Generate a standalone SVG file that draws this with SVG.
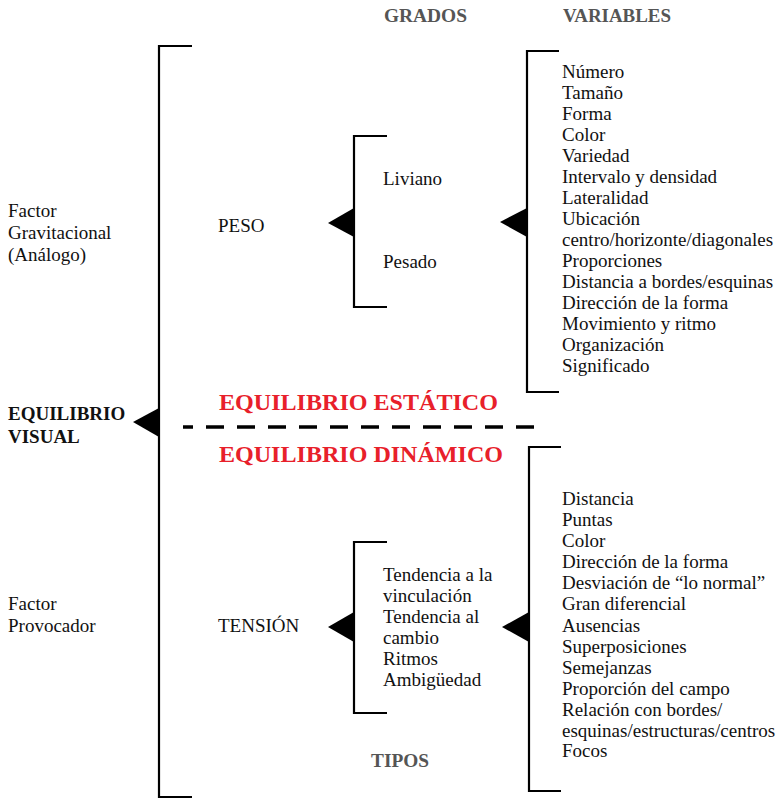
<svg xmlns="http://www.w3.org/2000/svg" width="778" height="798" viewBox="0 0 778 798">
<style>
.t{font-family:"Liberation Serif","Times New Roman",serif;font-size:19px;fill:#111}
.b{font-weight:bold}
.h{font-family:"Liberation Serif","Times New Roman",serif;font-size:18px;font-weight:bold;fill:#555}
.r{font-family:"Liberation Serif","Times New Roman",serif;font-size:24px;font-weight:bold;fill:#e8202a}
.br{fill:none;stroke:#000;stroke-width:2.2}
.tri{fill:#000}
</style>
<rect width="778" height="798" fill="#fff"/>
<g id="headers">
<text class="h" x="384" y="22" textLength="83" lengthAdjust="spacingAndGlyphs">GRADOS</text>
<text class="h" x="563" y="22" textLength="108" lengthAdjust="spacingAndGlyphs">VARIABLES</text>
<text class="h" x="371" y="767" textLength="58" lengthAdjust="spacingAndGlyphs">TIPOS</text>
</g>
<g id="equilibrio-visual">
<text class="t b" x="8" y="420">EQUILIBRIO</text>
<text class="t b" x="8" y="443">VISUAL</text>
</g>
<g id="factor-gravitacional">
<text class="t" x="8" y="217">Factor</text>
<text class="t" x="8" y="239">Gravitacional</text>
<text class="t" x="8" y="261">(Análogo)</text>
</g>
<g id="factor-provocador">
<text class="t" x="8" y="610">Factor</text>
<text class="t" x="8" y="632">Provocador</text>
</g>
<g id="peso">
<text class="t" x="218" y="232">PESO</text>
</g>
<g id="tension">
<text class="t" x="218" y="632">TENSIÓN</text>
</g>
<g id="grados">
<text class="t" x="383" y="185">Liviano</text>
<text class="t" x="383" y="268">Pesado</text>
</g>
<g id="tipos">
<text class="t" x="383" y="581">Tendencia a la</text>
<text class="t" x="383" y="602">vinculación</text>
<text class="t" x="383" y="623">Tendencia al</text>
<text class="t" x="383" y="644">cambio</text>
<text class="t" x="383" y="665">Ritmos</text>
<text class="t" x="383" y="686">Ambigüedad</text>
</g>
<g id="variables-estatico">
<text class="t" x="562" y="78">Número</text>
<text class="t" x="562" y="99">Tamaño</text>
<text class="t" x="562" y="120">Forma</text>
<text class="t" x="562" y="141">Color</text>
<text class="t" x="562" y="162">Variedad</text>
<text class="t" x="562" y="183">Intervalo y densidad</text>
<text class="t" x="562" y="204">Lateralidad</text>
<text class="t" x="562" y="225">Ubicación</text>
<text class="t" x="562" y="246">centro/horizonte/diagonales</text>
<text class="t" x="562" y="267">Proporciones</text>
<text class="t" x="562" y="288">Distancia a bordes/esquinas</text>
<text class="t" x="562" y="309">Dirección de la forma</text>
<text class="t" x="562" y="330">Movimiento y ritmo</text>
<text class="t" x="562" y="351">Organización</text>
<text class="t" x="562" y="372">Significado</text>
</g>
<g id="variables-dinamico">
<text class="t" x="562" y="505">Distancia</text>
<text class="t" x="562" y="526">Puntas</text>
<text class="t" x="562" y="547">Color</text>
<text class="t" x="562" y="568">Dirección de la forma</text>
<text class="t" x="562" y="589">Desviación de “lo normal”</text>
<text class="t" x="562" y="610">Gran diferencial</text>
<text class="t" x="562" y="632">Ausencias</text>
<text class="t" x="562" y="653">Superposiciones</text>
<text class="t" x="562" y="674">Semejanzas</text>
<text class="t" x="562" y="695">Proporción del campo</text>
<text class="t" x="562" y="716">Relación con bordes/</text>
<text class="t" x="562" y="737">esquinas/estructuras/centros</text>
<text class="t" x="562" y="757">Focos</text>
</g>
<g id="equilibrio-estatico">
<text class="r" x="219" y="410" textLength="279" lengthAdjust="spacingAndGlyphs">EQUILIBRIO ESTÁTICO</text>
</g>
<g id="equilibrio-dinamico">
<text class="r" x="219" y="462" textLength="284" lengthAdjust="spacingAndGlyphs">EQUILIBRIO DINÁMICO</text>
</g>
<g id="connectors">
<path class="br" d="M192,46 H159 V797 H192"/>
<polygon class="tri" points="133,422 159,408 159,437"/>
<path class="br" d="M387,136 H354 V307 H387"/>
<polygon class="tri" points="328,223 354,208 354,237"/>
<path class="br" d="M559,51 H527 V392 H559"/>
<polygon class="tri" points="500,222 527,208 527,237"/>
<path class="br" d="M387,542 H354 V713 H387"/>
<polygon class="tri" points="328,627 354,612 354,642"/>
<path class="br" d="M561,447 H529 V791 H561"/>
<polygon class="tri" points="502,627 529,612 529,642"/>
<path d="M183,427 H538" fill="none" stroke="#000" stroke-width="3.5" stroke-dasharray="10 13 18 13 18 13 18 13 18 13 18 13 18 13 18 13 18 13 18 13 18 13 18 13 10"/>
</g>
</svg>
